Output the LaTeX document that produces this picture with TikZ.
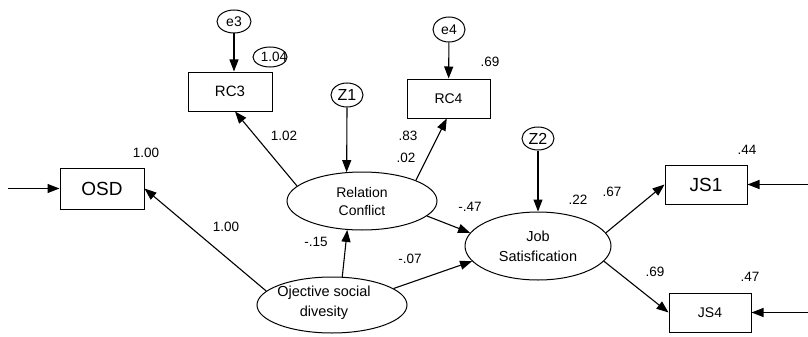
\documentclass[tikz,border=0pt]{standalone}
\usepackage{fontspec}
\setmainfont{Liberation Sans}
\usepackage{tikz}
\usetikzlibrary{shapes, arrows.meta, positioning}

\begin{document}
\begin{tikzpicture}[x=1pt, y=-1pt,
  obs/.style={draw, rectangle, line width=1pt, inner sep=0pt, minimum width=83pt, minimum height=39pt},
  lat/.style={draw, ellipse, line width=1pt, inner sep=0pt, align=center},
  err/.style={draw, ellipse, line width=1pt, inner sep=0pt, minimum width=32pt, minimum height=24pt},
  coef/.style={font=\fontsize{13.5}{16}\selectfont, inner sep=0pt},
  arr/.style={-{Triangle[length=12pt, width=9pt]}, line width=1.1pt}]
  \useasboundingbox (0, 0) rectangle (808, 337);

  % observed variables
  \node[obs, minimum width=84pt, minimum height=41pt, font=\fontsize{19}{22}\selectfont] (osd) at (102, 188.5) {OSD};
  \node[obs, minimum width=84pt, font=\fontsize{15}{18}\selectfont] (rc3) at (230, 91.5) {RC3};
  \node[obs, font=\fontsize{14}{17}\selectfont] (rc4) at (448.5, 98.5) {RC4};
  \node[obs, minimum width=82pt, font=\fontsize{19}{22}\selectfont] (js1) at (706, 184.5) {JS1};
  \node[obs, minimum width=82pt, font=\fontsize{14}{17}\selectfont] (js4) at (710, 312.5) {JS4};

  % latent variables
  \node[lat, minimum width=150pt, minimum height=58pt, font=\fontsize{14}{18}\selectfont] (rcon) at (362, 201) {Relation\\Conflict};
  \node[lat, minimum width=146pt, minimum height=68pt, font=\fontsize{14.5}{20}\selectfont] (jsat) at (538, 246) {Job\\Satisfication};
  \node[lat, minimum width=150pt, minimum height=56pt,
    label={[font=\fontsize{14.5}{20}\selectfont, align=center, xshift=-8pt, yshift=2pt]center:Ojective social\\divesity}] (ods) at (332, 305) {};

  % error terms
  \node[err, minimum width=34pt, minimum height=23pt, font=\fontsize{14}{16}\selectfont] (e3) at (234, 21.5) {e3};
  \node[err, minimum height=25pt, font=\fontsize{14}{16}\selectfont] (e4) at (449, 29.5) {e4};
  \node[err, font=\fontsize{16}{18}\selectfont] (z1) at (347, 95) {Z1};
  \node[err, minimum height=23pt, font=\fontsize{16}{18}\selectfont] (z2) at (538, 138.5) {Z2};
  \node[err, minimum width=34pt, minimum height=20pt] (v3) at (270, 57) {};
  \node[coef] (v3lab) at (274, 57) {1.04};

  % free ends
  \coordinate (osdin) at (8, 188.5);
  \coordinate (js1in) at (808, 184.5);
  \coordinate (js4in) at (808, 312.5);

  % paths
  \draw[arr] (osdin) -- (osd);
  \draw[arr] (js1in) -- (js1);
  \draw[arr] (js4in) -- (js4);
  \draw[arr] (e3.south) -- (e3.south |- rc3.north);
  \draw[arr] (e4) -- (rc4);
  \draw[arr] (z1.south) -- (rcon.118);
  \draw[arr] (z2) -- (jsat);
  \draw[arr] (rcon.167) -- (rc3.-76);
  \draw[arr] (rcon.21) -- (rc4.-95);
  \draw[arr] (rcon.-13) -- (jsat.169);
  \draw[arr] (ods.168) -- (osd.east);
  \draw[arr] (ods.70) -- (rcon.-117);
  \draw[arr] (ods.15) -- (jsat.193);
  \draw[arr] (jsat.11) -- (js1.west);
  \draw[arr] (jsat.-13) -- (js4.west);

  % estimates
  \node[coef] (losd) at (146, 153) {1.00};
  \node[coef] (lrc3) at (284, 136) {1.02};
  \node[coef] (lrc4) at (490, 62) {.69};
  \node[coef] (wrc4) at (408, 136) {.83};
  \node[coef] (rrc) at (406, 158) {.02};
  \node[coef] (wjs) at (470, 207) {-.47};
  \node[coef] (rjs) at (578, 200) {.22};
  \node[coef] (wjs1) at (612, 192) {.67};
  \node[coef] (ljs1) at (747, 150) {.44};
  \node[coef] (wjs4) at (655, 272) {.69};
  \node[coef] (ljs4) at (750, 277) {.47};
  \node[coef] (wosd) at (226, 227) {1.00};
  \node[coef] (wrc) at (316, 242) {-.15};
  \node[coef] (wods) at (410, 259) {-.07};
\end{tikzpicture}
\end{document}
